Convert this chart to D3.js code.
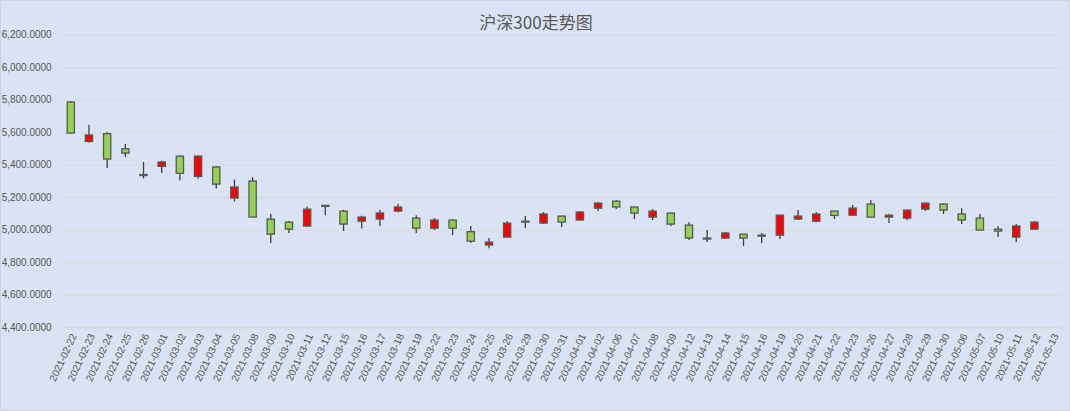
<!DOCTYPE html>
<html>
<head>
<meta charset="utf-8">
<script src="https://cdn.jsdelivr.net/npm/d3@7"></script>
<style>
  body { margin: 0; background: #dae3f3; }
  svg { display: block; }
</style>
</head>
<body>
<script>
// trading days
var dates = ['2021-02-22','2021-02-23','2021-02-24','2021-02-25','2021-02-26',
  '2021-03-01','2021-03-02','2021-03-03','2021-03-04','2021-03-05','2021-03-08','2021-03-09',
  '2021-03-10','2021-03-11','2021-03-12','2021-03-15','2021-03-16','2021-03-17','2021-03-18',
  '2021-03-19','2021-03-22','2021-03-23','2021-03-24','2021-03-25','2021-03-26','2021-03-29',
  '2021-03-30','2021-03-31','2021-04-01','2021-04-02','2021-04-06','2021-04-07','2021-04-08',
  '2021-04-09','2021-04-12','2021-04-13','2021-04-14','2021-04-15','2021-04-16','2021-04-19',
  '2021-04-20','2021-04-21','2021-04-22','2021-04-23','2021-04-26','2021-04-27','2021-04-28',
  '2021-04-29','2021-04-30','2021-05-06','2021-05-07','2021-05-10','2021-05-11','2021-05-12',
  '2021-05-13'];

// OHLC (05-13 has no candle)
var open = [5786,5543,5591,5498,5340,5390,5453,5328,5386,5195,5300,5066,5047,5023,5150,5115,5053,5066,5115,5072,
  5010,5060,4988,4906,4955,5053,5041,5084,5060,5133,5176,5140,5078,5103,5029,4949,4949,4973,4967,4967,
  5066,5053,5115,5090,5158,5078,5072,5127,5158,5097,5072,5004,4955,5004,null];
var high = [5790,5646,5601,5527,5417,5425,5456,5455,5393,5308,5324,5097,5055,5142,5153,5123,5086,5123,5160,5090,
  5072,5066,5023,4949,5053,5084,5109,5086,5115,5170,5183,5142,5127,5105,5047,4998,4986,4975,4980,5092,
  5121,5109,5117,5152,5183,5097,5123,5166,5164,5133,5097,5023,5035,5053,null];
var low = [5593,5537,5380,5447,5316,5349,5304,5314,5254,5174,5076,4918,4980,5020,5090,4992,5008,5023,5107,4980,
  4998,4967,4918,4887,4953,5010,5035,5017,5058,5115,5127,5066,5060,5023,4937,4924,4943,4900,4918,4943,
  5060,5047,5066,5084,5076,5041,5060,5115,5097,5035,4996,4955,4924,5000,null];
var close = [5595,5583,5435,5472,5336,5417,5347,5453,5281,5263,5078,4973,5004,5127,5146,5035,5078,5103,5140,5010,
  5060,5010,4930,4924,5041,5049,5097,5047,5109,5164,5140,5103,5115,5035,4949,4945,4980,4949,4963,5090,
  5084,5097,5088,5133,5078,5090,5121,5164,5121,5060,4998,4992,5023,5047,null];

var yTicks = [4400, 4600, 4800, 5000, 5200, 5400, 5600, 5800, 6000, 6200];
var title = '沪深300走势图';

var width = 1070, height = 411;
var margin = { top: 34.7, right: 8.3, bottom: 83.7, left: 61.7 };
var innerWidth = width - margin.left - margin.right;
var innerHeight = height - margin.top - margin.bottom;

var svg = d3.select('body').append('svg')
  .attr('width', width)
  .attr('height', height);

// achtergrond + rand
svg.append('rect')
  .attr('x', 0.5).attr('y', 0.5)
  .attr('width', width - 1).attr('height', height - 1)
  .attr('fill', '#dae3f3')
  .attr('stroke', '#d0d4da');

svg.append('text')
  .attr('x', 536).attr('y', 28.5)
  .attr('text-anchor', 'middle')
  .attr('font-family', '"Noto Sans CJK SC", sans-serif')
  .attr('font-size', 17)
  .attr('fill', '#595959')
  .text(title);

var data = dates.map(function (d, i) {
  return { date: d, open: open[i], high: high[i], low: low[i], close: close[i] };
});

var x = d3.scaleBand().domain(dates).range([0, innerWidth]).padding(0);
var y = d3.scaleLinear().domain([4400, 6200]).range([innerHeight, 0]);

var g = svg.append('g')
  .attr('transform', 'translate(' + margin.left + ',' + margin.top + ')');

// y-as met rasterlijnen
var yAxis = g.append('g')
  .call(d3.axisLeft(y).tickValues(yTicks).tickSize(-innerWidth).tickPadding(10)
    .tickFormat(d3.format(',.4f')));
yAxis.select('.domain').remove();
yAxis.selectAll('line').attr('stroke', '#d9d9d9').attr('stroke-width', 1);
yAxis.selectAll('text')
  .attr('fill', '#595959')
  .attr('font-family', '"Liberation Sans", Arial, sans-serif')
  .attr('font-size', 10);

// x-as
var xAxis = g.append('g')
  .attr('transform', 'translate(0,' + innerHeight + ')')
  .call(d3.axisBottom(x).tickSize(0).tickPadding(0));
xAxis.select('.domain').attr('stroke', '#d9d9d9');
xAxis.selectAll('text')
  .attr('fill', '#595959')
  .attr('font-family', '"Liberation Sans", Arial, sans-serif')
  .attr('font-size', 10)
  .attr('text-anchor', 'end')
  .attr('dy', '0.35em')
  .attr('transform', 'translate(3,7) rotate(-65)');

// kleine streepjes tussen de categorieën
g.append('g').selectAll('line')
  .data(dates.concat(['__end']))
  .enter().append('line')
  .attr('x1', function (d) { return d === '__end' ? innerWidth : x(d); })
  .attr('x2', function (d) { return d === '__end' ? innerWidth : x(d); })
  .attr('y1', innerHeight)
  .attr('y2', innerHeight + 4)
  .attr('stroke', '#d9d9d9');

var candles = g.append('g').selectAll('g')
  .data(data.filter(function (d) { return d.open != null; }))
  .enter().append('g')
  .attr('transform', function (d) { return 'translate(' + (x(d.date) + x.bandwidth() / 2) + ',0)'; });

// lonten
candles.append('line')
  .attr('y1', function (d) { return y(d.high); })
  .attr('y2', function (d) { return y(d.low); })
  .attr('stroke', '#404040')
  .attr('stroke-width', 1.3);

var bw = x.bandwidth() * 0.4;
candles.append('rect')
  .attr('x', -bw / 2)
  .attr('width', bw)
  .attr('y', function (d) { return y(Math.max(d.open, d.close)); })
  .attr('height', function (d) { return Math.max(1, Math.abs(y(d.open) - y(d.close))); })
  .attr('fill', function (d) { return d.close > d.open ? '#ff0000' : '#92d050'; })
  .attr('stroke', '#595959')
  .attr('stroke-width', 1.3);
</script>
</body>
</html>
